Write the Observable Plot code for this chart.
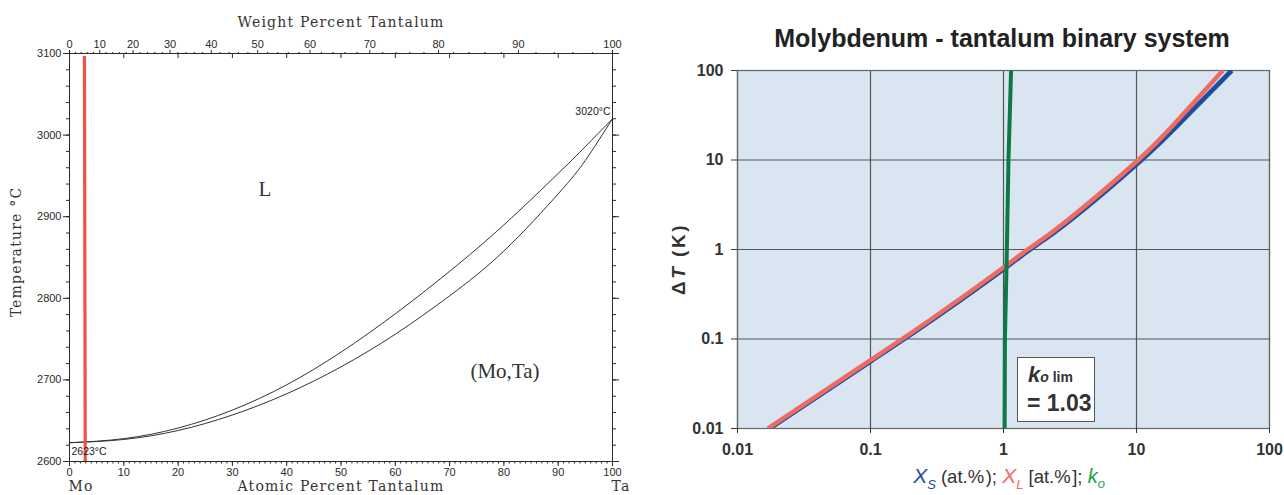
<!DOCTYPE html>
<html><head><meta charset="utf-8">
<script src="https://cdn.jsdelivr.net/npm/d3@7"></script>
<script src="https://cdn.jsdelivr.net/npm/@observablehq/plot@0.6"></script>
<style>
body{margin:0;background:#fff;}
#wrap{position:relative;width:1284px;height:495px;overflow:hidden;background:#fff;}
.abs{position:absolute;white-space:nowrap;line-height:1;}
.ctr{transform:translate(-50%,-50%);}
.rot{transform:translate(-50%,-50%) rotate(-90deg);}
.ser{font-family:"DejaVu Serif",serif;color:#333;font-size:14px;letter-spacing:1.2px;}
.sans{font-family:"Liberation Sans",Arial,sans-serif;}
#left,#right{position:absolute;top:0;}
#left{left:0;} #right{left:640px;}
</style></head><body><div id="wrap">
<div id="left"></div><div id="right"></div>
<div class="abs ctr ser" style="left:341px;top:22px;">Weight Percent Tantalum</div>
<div class="abs ctr ser" style="left:341px;top:486px;">Atomic Percent Tantalum</div>
<div class="abs ctr ser" style="left:81px;top:486px;">Mo</div>
<div class="abs ctr ser" style="left:621px;top:486px;">Ta</div>
<div class="abs rot ser" style="left:16px;top:252px;">Temperature °C</div>
<div class="abs ctr sans" style="left:1002px;top:38px;font-size:25px;font-weight:bold;color:#222;">Molybdenum - tantalum binary system</div>
<div class="abs rot sans" style="left:678px;top:259px;font-size:19px;font-weight:bold;color:#333;letter-spacing:2.5px;">Δ<i>T</i>&nbsp;(K)</div>
<div class="abs ctr sans" style="left:1009px;top:478px;font-size:18.5px;color:#333;"><i style="color:#1f4e9e;font-size:21px">X<sub style="font-size:13px">S</sub></i> (at.%&#8202;); <i style="color:#ef6b62;font-size:21px">X<sub style="font-size:13px">L</sub></i> [at.%&#8202;]; <i style="color:#22a04e;font-size:20px">k<sub style="font-size:13px">o</sub></i></div>
<div class="abs sans" style="left:1017px;top:357px;width:76px;height:63px;background:#fff;border:1px solid #555;color:#333;font-weight:bold;">
  <div class="abs" style="left:10px;top:6px;"><i style="font-size:22px">k</i><i style="font-size:14px">o</i><span style="font-size:14px"> lim</span></div>
  <div class="abs" style="left:9px;top:34px;font-size:23px;">= 1.03</div>
</div>
</div>
<script>
// ---------- Left panel: Mo–Ta phase diagram ----------
const liquidusAt = [0, 10, 20, 30, 40, 50, 60, 70, 80, 90, 95, 100];
const liquidusT  = [2623, 2628, 2641, 2663, 2694, 2734, 2781, 2833, 2890, 2953, 2986, 3020];
const solidusAt  = [0, 10, 20, 30, 40, 50, 60, 70, 80, 90, 95, 100];
const solidusT   = [2623, 2627, 2638, 2657, 2683, 2716, 2756, 2803, 2858, 2928, 2969, 3020];
const redLineAt  = [2.75, 2.9];
const redLineT   = [3097, 2600];
const atomicTicks = [0, 10, 20, 30, 40, 50, 60, 70, 80, 90, 100];
const weightTicks = [0, 10, 20, 30, 40, 50, 60, 70, 80, 90, 100];
const tempTicks   = [2600, 2700, 2800, 2900, 3000, 3100];
const regionNames = ["L", "(Mo,Ta)"];
const regionAt    = [36, 80.2];
const regionT     = [2934, 2710];

// ---------- Right panel: ΔT vs composition ----------
const xLiquid  = [0.0169, 0.1, 0.3, 1, 1.52, 3, 10.3, 20, 44.6];
const dTLiquid = [0.01, 0.058, 0.175, 0.63, 1.0, 2.1, 10, 27, 100];
const xSolid   = [0.0174, 0.103, 0.31, 1.04, 1.58, 3.15, 10.9, 21.8, 52];
const dTSolid  = [0.01, 0.058, 0.175, 0.63, 1.0, 2.1, 10, 27, 100];
const kO       = [1.02, 1.025, 1.06, 1.09, 1.14];
const dTk      = [0.01, 0.1, 1, 10, 100];
const logTicks = [0.01, 0.1, 1, 10, 100];
const logTickLabels = ["0.01", "0.1", "1", "10", "100"];

// weight% -> atomic% conversion for the secondary axis (Mo 95.95, Ta 180.95)
const MMo = 95.95, MTa = 180.95;
const wtToAt = w => 100 * (w / MTa) / (w / MTa + (100 - w) / MMo);
const weightAt = weightTicks.map(wtToAt);
const weightLabel = new Map(weightAt.map((a, i) => [a, String(weightTicks[i])]));
const weightMinorAt = d3.range(0, 101, 2).filter(w => w % 10 !== 0).map(wtToAt);

const ink = "#2a2a2a";
const pts = (xs, ys) => xs.map((x, i) => ({x, y: ys[i]}));
const leftPlot = Plot.plot({
  width: 640, height: 495,
  marginLeft: 69, marginRight: 28, marginTop: 53, marginBottom: 34,
  x: {domain: [0, 100], label: null},
  y: {domain: [2600, 3100], label: null},
  style: {fontFamily: "Liberation Sans, Arial, sans-serif", fontSize: "11px", color: ink, background: "transparent"},
  marks: [
    Plot.line(pts(liquidusAt, liquidusT), {x: "x", y: "y", stroke: "#333", strokeWidth: 1, curve: "natural"}),
    Plot.line(pts(solidusAt, solidusT), {x: "x", y: "y", stroke: "#333", strokeWidth: 1, curve: "natural"}),
    Plot.line(pts(redLineAt, redLineT), {x: "x", y: "y", stroke: "#ef5240", strokeWidth: 3.2, strokeLinecap: "butt"}),
    Plot.frame({stroke: ink, strokeWidth: 1}),
    Plot.axisX({anchor: "bottom", ticks: atomicTicks, tickSize: 5, tickPadding: 2, fontSize: 11, tickFormat: d => String(d)}),
    Plot.axisX({anchor: "bottom", ticks: d3.range(0, 101, 1), tickSize: 2.5, fill: "none"}),
    Plot.axisX({anchor: "top", ticks: weightAt, tickSize: 4, tickPadding: 2, fontSize: 11, tickFormat: d => weightLabel.get(d)}),
    Plot.axisX({anchor: "top", ticks: weightMinorAt, tickSize: 2, fill: "none"}),
    Plot.axisX({anchor: "top", ticks: atomicTicks, tickSize: -4, fill: "none"}),
    Plot.axisY({anchor: "left", ticks: tempTicks, tickSize: 6, tickPadding: 2, fontSize: 11, tickFormat: d => String(d)}),
    Plot.axisY({anchor: "left", ticks: d3.range(2600, 3101, 20), tickSize: 3, fill: "none"}),
    Plot.axisY({anchor: "right", ticks: tempTicks, tickSize: 6, fill: "none"}),
    Plot.axisY({anchor: "right", ticks: d3.range(2600, 3101, 20), tickSize: 3, fill: "none"}),
    Plot.text(regionNames, {x: (d, i) => regionAt[i], y: (d, i) => regionT[i], text: d => d, fontFamily: "Liberation Serif, serif", fontSize: 21, fill: "#333"}),
    Plot.text(["2623°C"], {x: [0], y: [2623], text: d => d, fontSize: 10.5, fill: "#222", textAnchor: "start", dx: 2, dy: 9}),
    Plot.text(["3020°C"], {x: [100], y: [3020], text: d => d, fontSize: 10.5, fill: "#222", textAnchor: "end", dx: -2, dy: -7})
  ]
});
document.getElementById("left").appendChild(leftPlot);

const tickLab = new Map(logTicks.map((t, i) => [t, logTickLabels[i]]));
const rightPlot = Plot.plot({
  width: 644, height: 495,
  marginLeft: 97, marginRight: 15, marginTop: 70, marginBottom: 67,
  x: {type: "log", domain: [0.01, 100], label: null},
  y: {type: "log", domain: [0.01, 100], label: null},
  style: {fontFamily: "Liberation Sans, Arial, sans-serif", color: "#333", background: "transparent"},
  marks: [
    Plot.frame({fill: "#d9e5f0", stroke: "none"}),
    Plot.gridX(logTicks, {stroke: "#555", strokeOpacity: 1, strokeWidth: 1.2}),
    Plot.gridY(logTicks, {stroke: "#555", strokeOpacity: 1, strokeWidth: 1.2}),
    Plot.frame({stroke: "#666", strokeWidth: 1.2}),
    Plot.axisX({ticks: logTicks, tickSize: 5, tickPadding: 10, fontSize: 16, fontWeight: "bold", tickFormat: d => tickLab.get(d)}),
    Plot.axisY({ticks: logTicks, tickSize: 6, tickPadding: 8, fontSize: 16, fontWeight: "bold", tickFormat: d => tickLab.get(d)}),
    Plot.line(pts(xSolid, dTSolid), {x: "x", y: "y", stroke: "#1f4e9e", strokeWidth: 4.8, curve: "natural", strokeLinecap: "butt", clip: true}),
    Plot.line(pts(xLiquid, dTLiquid), {x: "x", y: "y", stroke: "#ef6b62", strokeWidth: 4.5, curve: "natural", strokeLinecap: "butt", clip: true}),
    Plot.line(pts(kO, dTk), {x: "x", y: "y", stroke: "#0b7a45", strokeWidth: 4, strokeLinecap: "butt", clip: true})
  ]
});
document.getElementById("right").appendChild(rightPlot);
</script>
</body></html>
